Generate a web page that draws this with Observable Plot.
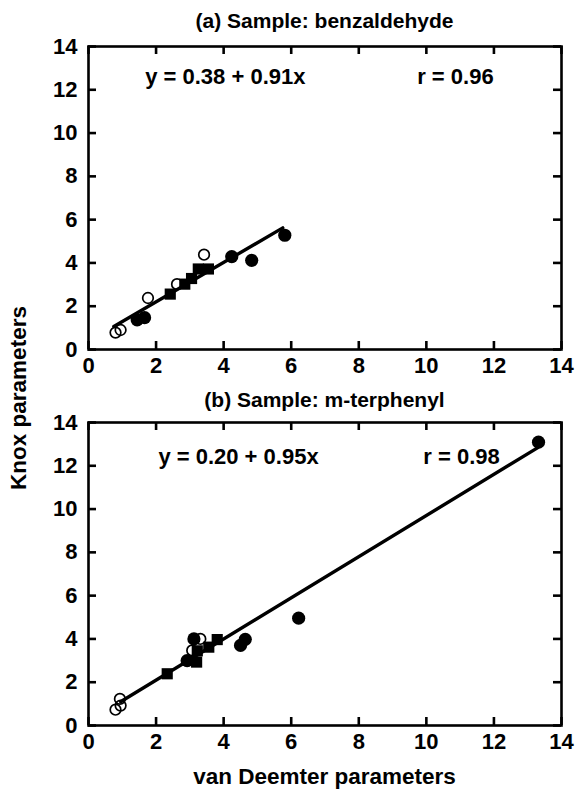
<!DOCTYPE html>
<html>
<head>
<meta charset="utf-8">
<script src="https://cdn.jsdelivr.net/npm/d3@7"></script>
<script src="https://cdn.jsdelivr.net/npm/@observablehq/plot@0.6"></script>
<style>
  html, body { margin: 0; padding: 0; background: #fff; }
  #wrap { position: relative; width: 576px; height: 790px; font-family: "Liberation Sans", Arial, sans-serif; font-weight: bold; color: #000; }
  .lbl { position: absolute; white-space: nowrap; transform: translate(-50%, -50%); }
  .panel { position: absolute; left: 0; }
</style>
</head>
<body>
<div id="wrap"></div>
<script>
// ---------- data ----------
const xTicks = [0, 2, 4, 6, 8, 10, 12, 14];
const yTicks = [0, 2, 4, 6, 8, 10, 12, 14];

const titleA = "(a) Sample: benzaldehyde";
const titleB = "(b) Sample: m-terphenyl";
const xLabel = "van Deemter parameters";
const yLabel = "Knox parameters";

const eqA = "y = 0.38 + 0.91x";
const rA = "r = 0.96";
const eqB = "y = 0.20 + 0.95x";
const rB = "r = 0.98";

// panel (a): benzaldehyde  [van Deemter, Knox]
const aFilledCircles = [[1.44, 1.37], [1.66, 1.47], [4.24, 4.29], [4.83, 4.12], [5.81, 5.28]];
const aOpenCircles   = [[0.80, 0.78], [0.95, 0.90], [1.76, 2.38], [2.62, 3.02], [3.42, 4.38]];
const aSquares       = [[2.42, 2.56], [2.85, 3.02], [3.05, 3.28], [3.25, 3.72], [3.55, 3.72]];
const aFit           = [[0.75, 1.06], [5.75, 5.62]];

// panel (b): m-terphenyl
const bFilledCircles = [[2.92, 3.00], [3.12, 4.00], [4.50, 3.70], [4.64, 3.98], [6.22, 4.96], [13.32, 13.09]];
const bOpenCircles   = [[0.80, 0.73], [0.95, 0.92], [0.93, 1.23], [3.07, 3.47], [3.31, 4.00]];
const bSquares       = [[2.33, 2.39], [3.20, 2.93], [3.22, 3.45], [3.56, 3.62], [3.81, 3.97]];
const bFit           = [[0.95, 1.10], [13.30, 12.84]];

// ---------- layout ----------
const W = 576, ML = 88, MR = 15, MT = 46, MB = 36, H = 385;
const IW = W - ML - MR, IH = H - MT - MB;
const TICK = 8, SW = 2.6;

function panel(filled, open, squares, fit, eq, r, eqPos, rPos) {
  return Plot.plot({
    width: W, height: H,
    marginLeft: ML, marginRight: MR, marginTop: MT, marginBottom: MB,
    x: { domain: [0, 14] },
    y: { domain: [0, 14] },
    style: { fontFamily: '"Liberation Sans", Arial, sans-serif', fontWeight: "bold", fontSize: "22px", color: "#000", background: "transparent", overflow: "visible" },
    marks: [
      Plot.tickX(xTicks, { x: d => d, insetTop: IH - TICK, stroke: "#000", strokeWidth: SW }),
      Plot.tickX(xTicks, { x: d => d, insetBottom: IH - TICK, stroke: "#000", strokeWidth: SW }),
      Plot.tickY(yTicks, { y: d => d, insetRight: IW - TICK, stroke: "#000", strokeWidth: SW }),
      Plot.tickY(yTicks, { y: d => d, insetLeft: IW - TICK, stroke: "#000", strokeWidth: SW }),
      Plot.frame({ stroke: "#000", strokeWidth: SW }),
      Plot.axisX(xTicks, { tickSize: 0, tickPadding: 8, label: null, fontSize: 22, fontWeight: "bold", tickFormat: d => String(d) }),
      Plot.axisY(yTicks, { tickSize: 0, tickPadding: 11, label: null, fontSize: 22, fontWeight: "bold", tickFormat: d => String(d) }),
      Plot.line(fit, { x: d => d[0], y: d => d[1], stroke: "#000", strokeWidth: 3.4 }),
      Plot.dot(filled, { x: d => d[0], y: d => d[1], r: 6.6, fill: "#000", stroke: "none" }),
      Plot.dot(squares, { x: d => d[0], y: d => d[1], symbol: "square", r: 6.3, fill: "#000", stroke: "none" }),
      Plot.dot(open, { x: d => d[0], y: d => d[1], r: 5.3, fill: "none", stroke: "#000", strokeWidth: 1.7 }),
      Plot.text([eq], { x: () => eqPos[0], y: () => eqPos[1], text: d => d, fontSize: 22, fontWeight: "bold", fill: "#000" }),
      Plot.text([r], { x: () => rPos[0], y: () => rPos[1], text: d => d, fontSize: 22, fontWeight: "bold", fill: "#000" })
    ]
  });
}

const wrap = document.getElementById("wrap");

function addLabel(text, x, y, size, rotate) {
  const d = document.createElement("div");
  d.className = "lbl";
  d.textContent = text;
  d.style.left = x + "px";
  d.style.top = y + "px";
  d.style.fontSize = size + "px";
  if (rotate) d.style.transform = "translate(-50%, -50%) rotate(-90deg)";
  wrap.appendChild(d);
}

const p1 = panel(aFilledCircles, aOpenCircles, aSquares, aFit, eqA, rA, [4.05, 12.6], [10.86, 12.6]);
p1.classList.add("panel");
p1.style.top = "0px";
wrap.appendChild(p1);

const p2 = panel(bFilledCircles, bOpenCircles, bSquares, bFit, eqB, rB, [4.44, 12.4], [11.04, 12.4]);
p2.classList.add("panel");
p2.style.top = "376px";
wrap.appendChild(p2);

addLabel(titleA, ML + IW / 2, 21, 21);
addLabel(titleB, ML + IW / 2, 400, 21);
addLabel(xLabel, ML + IW / 2, 777, 22.5);
addLabel(yLabel, 19, 398, 22.5, true);
</script>
</body>
</html>
